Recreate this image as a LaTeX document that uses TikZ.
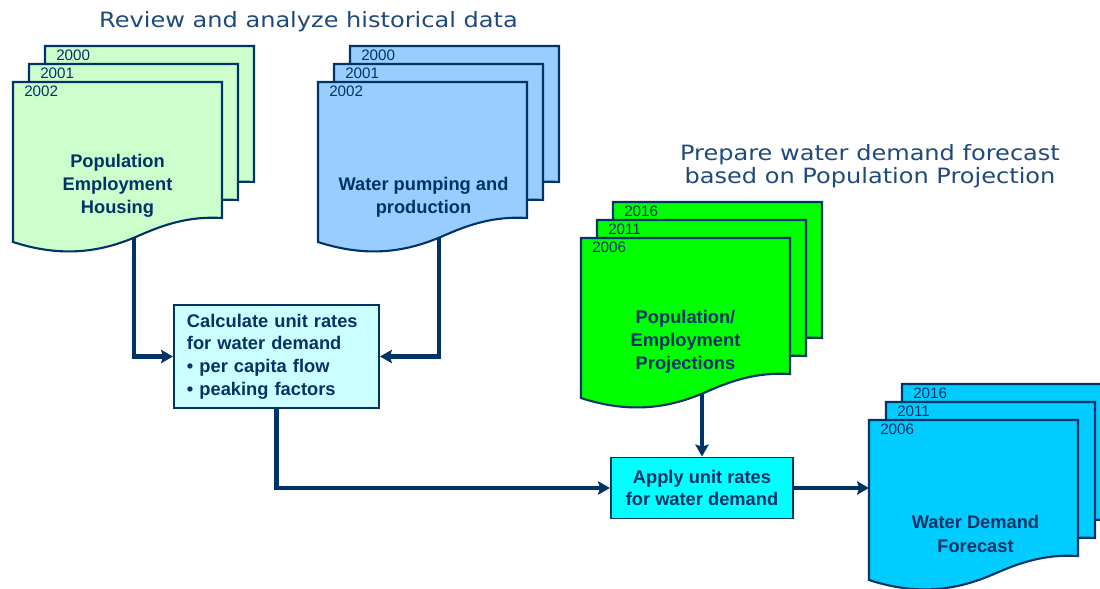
\documentclass[tikz,border=0pt]{standalone}
\usepackage{fontspec}
\setmainfont{Liberation Sans}
\newfontfamily\titlefont[FakeStretch=1.14]{DejaVu Sans}
\usetikzlibrary{arrows.meta}
\definecolor{navy}{RGB}{0,51,102}
\definecolor{titleblue}{RGB}{31,73,125}
\definecolor{popgreen}{RGB}{204,255,204}
\definecolor{pumpblue}{RGB}{153,204,255}
\definecolor{projgreen}{RGB}{0,255,0}
\definecolor{fcstblue}{RGB}{0,204,255}
\definecolor{calccyan}{RGB}{204,255,255}
\definecolor{applycyan}{RGB}{0,255,255}
\tikzset{
	sheet/.style={draw=navy, line width=1.5pt},
	year/.style={anchor=west, inner sep=0pt, text=navy, font=\fontsize{10.8}{12}\selectfont},
	doclabel/.style={anchor=south, inner sep=0pt, text depth=3pt, align=center, text=navy, font=\bfseries\fontsize{13}{16.4}\selectfont},
	ratebox/.style={draw=navy, line width=1.4pt, text=navy, font=\bfseries\fontsize{13}{16.2}\selectfont},
	flow/.style={draw=navy, line width=3.3pt, -{Stealth[length=8.5pt,width=9.5pt,inset=1.5pt]}},
	heading/.style={inner sep=0pt, text=titleblue, font=\titlefont\fontsize{15}{16.4}\selectfont}
}
\def\docsheet(#1,#2)#3{%
	\begin{scope}[shift={(#1,#2)}]
		\draw[sheet, fill=#3] (0,0) -- (209,0) -- (209,136) .. controls (175,134) and (150,143) .. (125,154) .. controls (95,167) and (55,178) .. (0,160) -- cycle;
	\end{scope}}

\begin{document}
\begin{tikzpicture}[x=0.025cm, y=-0.025cm]
	%%%%% START %%%%%
	\useasboundingbox (0,0) rectangle (1100,589);
	
	\node[heading, anchor=base] (histtitle) at (308.5,27.7) {Review and analyze historical data};
	\node[heading, anchor=south, align=center, text depth=3pt] (fcsttitle) at (870,188.5) {Prepare water demand forecast\\based on Population Projection};
	
	% historical population data
	\docsheet(45,46){popgreen}
	\docsheet(29,64){popgreen}
	\docsheet(13,82){popgreen}
	\node[year] (popyr0) at (56,55.5) {2000};
	\node[year] (popyr1) at (40,73.5) {2001};
	\node[year] (popyr2) at (24,91.5) {2002};
	\node[doclabel] (pop) at (117.5,218.5) {Population\\Employment\\Housing};
	\coordinate (pop-out) at (134,237);
	
	% historical pumping data
	\docsheet(350,46){pumpblue}
	\docsheet(334,64){pumpblue}
	\docsheet(318,82){pumpblue}
	\node[year] (pumpyr0) at (361,55.5) {2000};
	\node[year] (pumpyr1) at (345,73.5) {2001};
	\node[year] (pumpyr2) at (329,91.5) {2002};
	\node[doclabel] (pump) at (423.5,218.5) {Water pumping and\\production};
	\coordinate (pump-out) at (439,237);
	
	% projections
	\docsheet(613,202){projgreen}
	\docsheet(597,220){projgreen}
	\docsheet(581,238){projgreen}
	\node[year] (projyr0) at (624,211.5) {2016};
	\node[year] (projyr1) at (608,229.5) {2011};
	\node[year] (projyr2) at (592,247.5) {2006};
	\node[doclabel] (proj) at (685.5,374.5) {Population/\\Employment\\Projections};
	\coordinate (proj-out) at (702,393);
	
	% forecast
	\docsheet(902,384){fcstblue}
	\docsheet(886,402){fcstblue}
	\docsheet(869,420){fcstblue}
	\node[year] (fcstyr0) at (913,393.5) {2016};
	\node[year] (fcstyr1) at (897,411.5) {2011};
	\node[year] (fcstyr2) at (880,429.5) {2006};
	\node[doclabel] (fcst) at (975.5,556.5) {Water Demand\\Forecast};
	\coordinate (fcst-in) at (869,488);
	
	% unit rate boxes
	\node[ratebox, fill=calccyan, minimum width=5.125cm, minimum height=2.575cm, text width=4.475cm, inner xsep=0.325cm, align=left] (calc) at (276.5,356.5) {Calculate unit rates\\for water demand\\• per capita flow\\• peaking factors};
	\node[ratebox, fill=applycyan, minimum width=4.55cm, minimum height=1.525cm, align=center] (apply) at (702,488) {Apply unit rates\\for water demand};
	
	\draw[flow] (pop-out) |- (calc.west);
	\draw[flow] (pump-out) |- (calc.east);
	\draw[flow] (calc.south) |- (apply.west);
	\draw[flow] (proj-out) -- (apply.north);
	\draw[flow] (apply.east) -- (fcst-in);
	
	%%%%% END %%%%%
\end{tikzpicture}
\end{document}
